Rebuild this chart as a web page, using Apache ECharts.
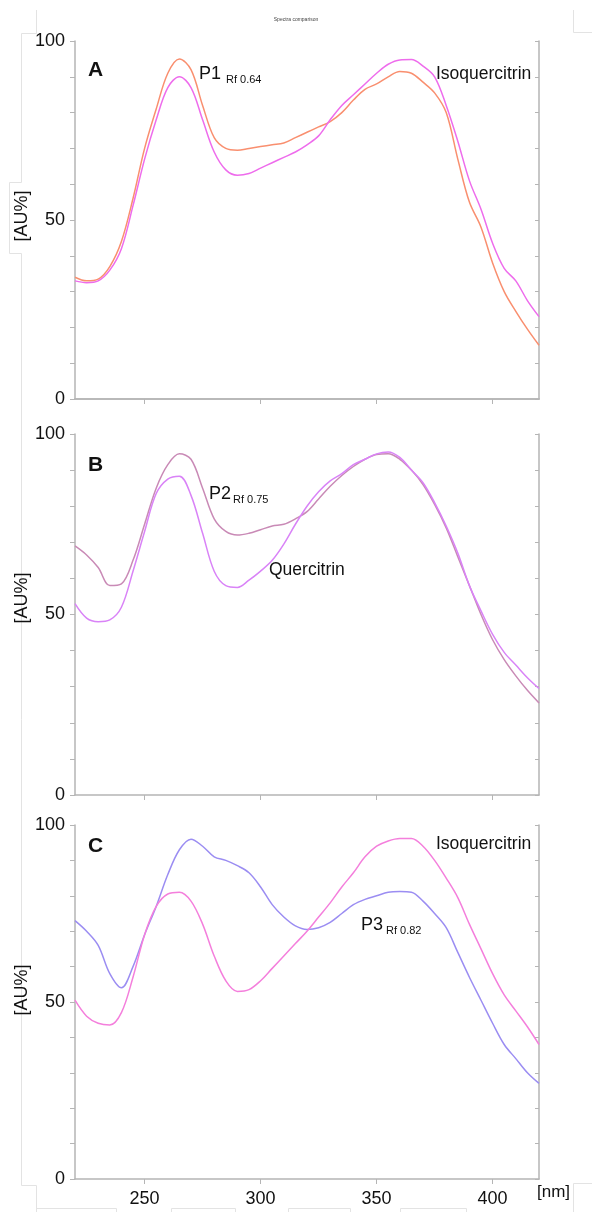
<!DOCTYPE html>
<html>
<head>
<meta charset="utf-8">
<script src="https://cdn.jsdelivr.net/npm/echarts@6/dist/echarts.min.js"></script>
<style>
  html, body { margin: 0; padding: 0; background: #fff; }
  #chart { width: 592px; height: 1212px; }
</style>
</head>
<body>
<div id="chart"></div>
<script>
// wavelength grid, nm
const wavelengths = [220,225,230,235,240,245,250,255,260,265,270,275,280,285,290,295,300,305,310,315,
  320,325,330,335,340,345,350,355,360,365,370,375,380,385,390,395,400,405,410,415,420];

// panel A
const p1 = [34,33,33.5,37,44,56,70,81,91,95,92,82,73,70,69.5,70,70.5,71,71.5,73,
  74.5,76,77.5,80,83.5,86.5,88,90,91.5,91,88.5,85.5,80,67,55,48,38,30,24.5,19.5,15];
const isoquercitrinA = [33,32.5,33,36,42,54,67,78,87,90,87,78,69,64,62.5,63,64.5,66,67.5,69,
  71,73.5,78,82,85,88,91,93.5,94.7,94.8,93,90,82,72,61,53,43.5,36.5,33,27.5,23];

// panel B
const p2 = [69,66.5,63,58,58.5,65,75,85,91.5,94.5,93,85,76.5,73,72,72.5,73.5,74.5,75,76.5,
  78.5,82,85.5,88.5,91,93,94.3,94.5,93,90,86,80.5,74,66,58,50,43,37.5,33,29,25.5];
const quercitrin = [53,49,48,48.5,52,62,73,83.5,87.5,88.3,83,72.5,62,58,57.5,59.5,62,65,69.5,75,
  80,84,87,89,91.5,93,94.5,95,93.5,90,86.5,81,74.5,67,58,51,44.5,39.5,36,32.5,29.5];

// panel C
const p3 = [73,70,66,58,54,60,69,77,86,93,96,94,91,90,88.5,86.5,82.5,77.5,74,71.5,
  70.5,71,72.5,75,77.5,79,80,81,81.2,81,78.5,75,71,64,57,50.5,44,38,34,30,27];
const isoquercitrinC = [50.5,46,44,43.5,47,57,69,77,80.5,81,78.5,72,63,56,53,53.5,56,59.5,63,66.5,
  70,74,78,82.5,86.5,91,94,95.5,96.2,96.2,94,90,85,79.5,72,65,58,52,47.5,43,38];

const xTicks = [250, 300, 350, 400];
const yLabels = [0, 50, 100];

const FONT = "Liberation Sans, Arial, sans-serif";
const AXIS = "#b5b5b5";
const FAINT = "#e3e3e3";

const panels = [
  { top: 41, height: 358, lines: [[p1, "#f98f6f"], [isoquercitrinA, "#ee6cec"]] },
  { top: 434, height: 361, lines: [[p2, "#c98ab6"], [quercitrin, "#d983f7"]] },
  { top: 825, height: 354, lines: [[p3, "#9b8df2"], [isoquercitrinC, "#f47fdc"]] }
];

const pairs = arr => wavelengths.map((w, k) => [w, arr[k]]);

const grid = [], xAxis = [], yAxis = [], series = [];

panels.forEach((p, i) => {
  grid.push({ left: 75, right: 53, top: p.top, height: p.height, outerBoundsMode: "none" });
  xAxis.push({
    gridIndex: i, type: "value", min: 220, max: 420, position: "bottom",
    axisLine: { lineStyle: { color: AXIS, width: 1.5 } },
    axisTick: { customValues: xTicks, length: 5, lineStyle: { color: AXIS } },
    axisLabel: { show: i === 2, customValues: xTicks, fontSize: 18, color: "#111", margin: 11, fontFamily: FONT },
    splitLine: { show: false }
  });
  yAxis.push({
    gridIndex: i, type: "value", min: 0, max: 100, interval: 10, position: "left",
    axisLine: { show: true, lineStyle: { color: AXIS, width: 1.5 } },
    axisTick: { show: true, length: 5, lineStyle: { color: AXIS } },
    axisLabel: { customValues: yLabels, fontSize: 18, color: "#111", margin: 10, fontFamily: FONT },
    splitLine: { show: false }
  });
  p.lines.forEach(([arr, color]) => {
    series.push({
      type: "line", xAxisIndex: i, yAxisIndex: i, data: pairs(arr),
      showSymbol: false, smooth: 0.35,
      lineStyle: { color: color, width: 1.5 }
    });
  });
});

// right-hand frame axes
panels.forEach((p, i) => {
  yAxis.push({
    gridIndex: i, type: "value", min: 0, max: 100, interval: 10, position: "right",
    axisLine: { show: true, lineStyle: { color: AXIS, width: 1.5 } },
    axisTick: { show: true, inside: true, length: 4, lineStyle: { color: AXIS } },
    axisLabel: { show: false },
    splitLine: { show: false }
  });
});

// top frame of panel A
xAxis.push({
  gridIndex: 0, type: "value", min: 220, max: 420, position: "top",
  axisLine: { lineStyle: { color: AXIS, width: 1.5 } },
  axisTick: { customValues: xTicks, inside: true, length: 5, lineStyle: { color: AXIS } },
  axisLabel: { show: false },
  splitLine: { show: false }
});

const txt = (x, y, text, font, extra) => ({
  type: "text", x: x, y: y,
  style: Object.assign({ text: text, font: font, fill: "#111", verticalAlign: "middle" }, extra || {})
});
const vtxt = (x, y, text) => ({
  type: "text", x: x, y: y, rotation: Math.PI / 2,
  style: { text: text, font: "18px " + FONT, fill: "#111", align: "center", verticalAlign: "middle" }
});
const faint = pts => ({
  type: "polyline", silent: true,
  shape: { points: pts },
  style: { stroke: FAINT, lineWidth: 1, fill: null }
});

const graphic = [
  // layout boxes left over from the source figure
  faint([[36.5, 10], [36.5, 33.5], [21.5, 33.5], [21.5, 182.5], [9.5, 182.5], [9.5, 253.5], [21.5, 253.5], [21.5, 1185.5], [36.5, 1185.5], [36.5, 1212]]),
  faint([[573.5, 10], [573.5, 32.5], [592, 32.5]]),
  faint([[36.5, 1208.5], [116.5, 1208.5], [116.5, 1212]]),
  faint([[171.5, 1212], [171.5, 1208.5], [235.5, 1208.5], [235.5, 1212]]),
  faint([[288.5, 1212], [288.5, 1208.5], [350.5, 1208.5], [350.5, 1212]]),
  faint([[400.5, 1212], [400.5, 1208.5], [466.5, 1208.5], [466.5, 1212]]),
  faint([[573.5, 1212], [573.5, 1183.5], [592, 1183.5]]),
  txt(296, 20, "Spectra comparison", "5px " + FONT, { align: "center", fill: "#444" }),
  // panel letters
  txt(88, 70, "A", "bold 21px " + FONT),
  txt(88, 465, "B", "bold 21px " + FONT),
  txt(88, 846, "C", "bold 21px " + FONT),
  // annotations
  txt(199, 74, "P1", "18px " + FONT),
  txt(226, 80, "Rf 0.64", "11px " + FONT),
  txt(436, 74, "Isoquercitrin", "17.5px " + FONT),
  txt(209, 494, "P2", "18px " + FONT),
  txt(233, 500, "Rf 0.75", "11px " + FONT),
  txt(269, 570, "Quercitrin", "17.5px " + FONT),
  txt(436, 844, "Isoquercitrin", "17.5px " + FONT),
  txt(361, 925, "P3", "18px " + FONT),
  txt(386, 931, "Rf 0.82", "11px " + FONT),
  // axis names
  vtxt(22, 216, "[AU%]"),
  vtxt(22, 598, "[AU%]"),
  vtxt(22, 990, "[AU%]"),
  txt(537, 1192, "[nm]", "17px " + FONT)
];

const chart = echarts.init(document.getElementById("chart"));
chart.setOption({
  backgroundColor: "#fff",
  animation: false,
  grid: grid,
  xAxis: xAxis,
  yAxis: yAxis,
  series: series,
  graphic: graphic
});
</script>
</body>
</html>
